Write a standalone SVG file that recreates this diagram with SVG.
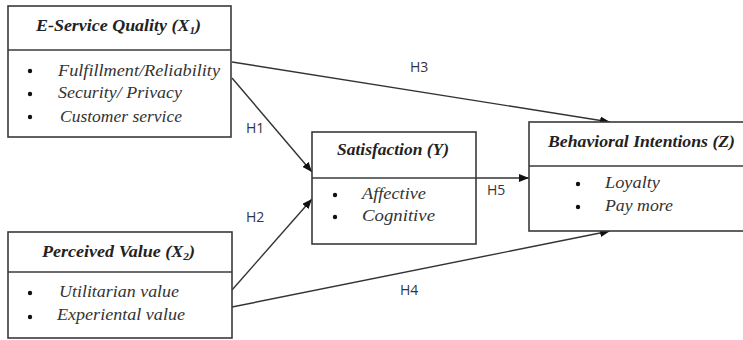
<svg xmlns="http://www.w3.org/2000/svg" width="743" height="340" viewBox="0 0 743 340">
<defs>
<marker id="arr" markerWidth="10" markerHeight="8" refX="10" refY="4" orient="auto" markerUnits="userSpaceOnUse">
<path d="M0,0 L10,4 L0,8 z" fill="#111"/>
</marker>
<style>
.box{fill:#fff;stroke:#3a3a3a;stroke-width:1.6}
.div{stroke:#3a3a3a;stroke-width:1.6}
.title{font-family:"Liberation Serif",serif;font-style:italic;font-weight:bold;font-size:16px;fill:#222}
.item{font-family:"Liberation Serif",serif;font-style:italic;font-size:16.5px;fill:#333}
.bul{fill:#111}
.conn{stroke:#333;stroke-width:1.4;fill:none}
.lbl{font-family:"Open Sans","Liberation Sans",sans-serif;font-size:14px;fill:#334}
</style>
</defs>
<rect width="743" height="340" fill="#fff"/>
<g id="connectors">
<line class="conn" x1="232" y1="62" x2="610" y2="122" marker-end="url(#arr)"/>
<line class="conn" x1="232" y1="78" x2="312" y2="172" marker-end="url(#arr)"/>
<line class="conn" x1="232" y1="290" x2="312" y2="199" marker-end="url(#arr)"/>
<line class="conn" x1="232" y1="307" x2="610" y2="231" marker-end="url(#arr)"/>
<line class="conn" x1="476" y1="178" x2="529" y2="178" marker-end="url(#arr)"/>
<text class="lbl" x="410" y="72">H3</text>
<text class="lbl" x="246" y="133">H1</text>
<text class="lbl" x="246" y="222">H2</text>
<text class="lbl" x="487" y="195">H5</text>
<text class="lbl" x="400" y="295">H4</text>
</g>
<g id="eservice">
<rect class="box" x="8" y="6" width="223" height="131"/>
<line class="div" x1="8" y1="50" x2="231" y2="50"/>
<text class="title" x="36" y="31" textLength="165" lengthAdjust="spacingAndGlyphs">E-Service Quality (X<tspan font-size="10" dy="3">1</tspan><tspan dy="-3">)</tspan></text>
<circle class="bul" cx="30" cy="71" r="2.2"/>
<circle class="bul" cx="30" cy="94" r="2.2"/>
<circle class="bul" cx="30" cy="117" r="2.2"/>
<text class="item" x="58" y="76" textLength="162" lengthAdjust="spacingAndGlyphs">Fulfillment/Reliability</text>
<text class="item" x="58" y="98" textLength="124" lengthAdjust="spacingAndGlyphs">Security/ Privacy</text>
<text class="item" x="60" y="122" textLength="122" lengthAdjust="spacingAndGlyphs">Customer service</text>
</g>
<g id="perceived">
<rect class="box" x="8" y="232" width="224" height="106"/>
<line class="div" x1="8" y1="272" x2="232" y2="272"/>
<text class="title" x="42" y="257" textLength="153" lengthAdjust="spacingAndGlyphs">Perceived Value (X<tspan font-size="10" dy="3">2</tspan><tspan dy="-3">)</tspan></text>
<circle class="bul" cx="30" cy="293" r="2.2"/>
<circle class="bul" cx="30" cy="317" r="2.2"/>
<text class="item" x="59" y="297" textLength="120" lengthAdjust="spacingAndGlyphs">Utilitarian value</text>
<text class="item" x="57" y="320" textLength="128" lengthAdjust="spacingAndGlyphs">Experiental value</text>
</g>
<g id="satisfaction">
<rect class="box" x="312" y="132" width="164" height="112"/>
<line class="div" x1="312" y1="178" x2="476" y2="178"/>
<text class="title" x="337" y="155" textLength="112" lengthAdjust="spacingAndGlyphs">Satisfaction (Y)</text>
<circle class="bul" cx="335" cy="195" r="2.2"/>
<circle class="bul" cx="335" cy="217" r="2.2"/>
<text class="item" x="362" y="199" textLength="64" lengthAdjust="spacingAndGlyphs">Affective</text>
<text class="item" x="362" y="221" textLength="73" lengthAdjust="spacingAndGlyphs">Cognitive</text>
</g>
<g id="behavioral">
<rect class="box" x="529" y="122" width="230" height="109"/>
<line class="div" x1="529" y1="166" x2="759" y2="166"/>
<text class="title" x="548" y="147" textLength="187" lengthAdjust="spacingAndGlyphs">Behavioral Intentions (Z)</text>
<circle class="bul" cx="578" cy="184" r="2.2"/>
<circle class="bul" cx="578" cy="207" r="2.2"/>
<text class="item" x="605" y="188" textLength="55" lengthAdjust="spacingAndGlyphs">Loyalty</text>
<text class="item" x="605" y="211" textLength="68" lengthAdjust="spacingAndGlyphs">Pay more</text>
</g>
</svg>
